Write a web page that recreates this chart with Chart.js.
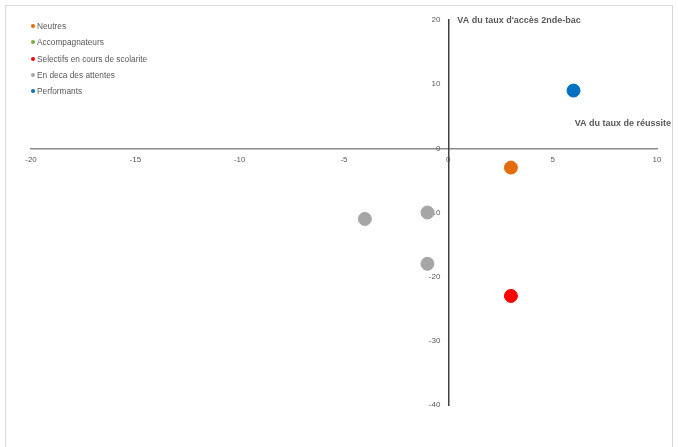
<!DOCTYPE html>
<html>
<head>
<meta charset="utf-8">
<script src="https://cdn.jsdelivr.net/npm/chart.js@4.4.1/dist/chart.umd.min.js"></script>
<style>
  body { margin: 0; background: #fff; font-family: "Liberation Sans", Arial, sans-serif; }
  #wrap { position: relative; width: 678px; height: 447px; overflow: hidden; }
  #frame { position: absolute; left: 5px; top: 5px; width: 668px; height: 480px; border: 1px solid #d9d9d9; box-sizing: border-box; }
  #chart { position: absolute; left: 0; top: 0; }
  #legend { position: absolute; left: 31px; top: 20px; font-size: 8.3px; color: #595959; }
  #legend div { height: 16.3px; line-height: 12px; white-space: nowrap; }
  #legend span { display: inline-block; width: 4px; height: 4px; border-radius: 50%; margin-right: 2px; vertical-align: 1px; }
</style>
</head>
<body>
<div id="wrap">
  <div id="frame"></div>
  <canvas id="chart" width="678" height="447"></canvas>
  <div id="legend"></div>
</div>
<script>
// groups of schools
const groups = ['Neutres', 'Accompagnateurs', 'Selectifs en cours de scolarite', 'En deca des attentes', 'Performants'];
const groupColors = ['#e46c0a', '#70ad47', '#ff0000', '#a6a6a6', '#0070c0'];

// x = VA du taux de réussite, y = VA du taux d'accès 2nde-bac
const reussite = [[3], [], [3], [-1, -4, -1], [6]];
const acces = [[-3], [], [-23], [-10, -11, -18], [9]];

const xTitle = 'VA du taux de réussite';
const yTitle = "VA du taux d'accès 2nde-bac";

const datasets = groups.map((name, i) => ({
  label: name,
  data: reussite[i].map((x, j) => ({ x: x, y: acces[i][j] })),
  backgroundColor: groupColors[i],
  borderColor: groupColors[i],
  pointRadius: 6.5,
  pointHoverRadius: 6.5
}));

// axis titles sit next to the crossing axes, not on the edges
const axisTitles = {
  id: 'axisTitles',
  afterDraw(chart) {
    const { ctx, scales: { x, y } } = chart;
    ctx.save();
    ctx.fillStyle = '#595959';
    ctx.font = 'bold 9px "Liberation Sans", Arial, sans-serif';
    ctx.textBaseline = 'middle';
    ctx.textAlign = 'left';
    ctx.fillText(yTitle, x.getPixelForValue(0) + 9, y.top + 1);
    ctx.textAlign = 'right';
    ctx.fillText(xTitle, x.right + 14, y.getPixelForValue(0) - 25);
    ctx.restore();
  }
};

const tickFont = { size: 8, family: '"Liberation Sans", Arial' };

const ctx = document.getElementById('chart').getContext('2d');
const chart = new Chart(ctx, {
  type: 'scatter',
  data: { datasets: datasets },
  options: {
    responsive: false,
    animation: false,
    layout: { padding: { left: 31, right: 21, top: 20, bottom: 42 } },
    plugins: {
      legend: { display: false },
      tooltip: { enabled: false }
    },
    scales: {
      x: {
        type: 'linear',
        min: -20,
        max: 10,
        position: { y: 0 },
        grid: { display: false, drawTicks: false },
        border: { color: '#8c8c8c', width: 1.5 },
        ticks: { stepSize: 5, color: '#595959', font: tickFont, padding: 7, maxRotation: 0 }
      },
      y: {
        type: 'linear',
        min: -40,
        max: 20,
        position: { x: 0 },
        grid: { display: false, drawTicks: false },
        border: { color: '#404040', width: 1.5 },
        ticks: {
          stepSize: 10, color: '#595959', font: tickFont,
          // padding is ignored for an axis placed at a value, so pad with spaces
          callback: v => v + '\u2002\u2002'
        }
      }
    }
  },
  plugins: [axisTitles]
});

// legend built from the datasets
const legend = document.getElementById('legend');
chart.data.datasets.forEach(ds => {
  const row = document.createElement('div');
  row.innerHTML = '<span style="background:' + ds.backgroundColor + '"></span>' + ds.label;
  legend.appendChild(row);
});
</script>
</body>
</html>
